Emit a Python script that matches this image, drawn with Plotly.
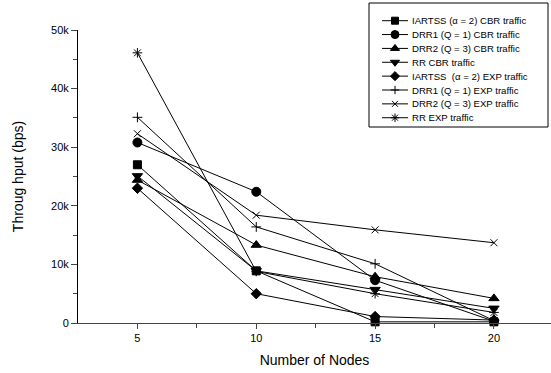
import plotly.graph_objects as go

nodes = [5, 10, 15, 20]

series_names = [
    "IARTSS (\u03b1 = 2) CBR traffic",
    "DRR1 (Q = 1) CBR traffic",
    "DRR2 (Q = 3) CBR traffic",
    "RR CBR traffic",
    "IARTSS  (\u03b1 = 2) EXP traffic",
    "DRR1 (Q = 1) EXP traffic",
    "DRR2 (Q = 3) EXP traffic",
    "RR EXP traffic",
]

iartss_cbr = [27000, 8900, 200, 200]
drr1_cbr = [30800, 22400, 7300, 300]
drr2_cbr = [24400, 13300, 7900, 4200]
rr_cbr = [25100, 8900, 5700, 2500]
iartss_exp = [23000, 5000, 1100, 500]
drr1_exp = [35100, 16400, 10100, 400]
drr2_exp = [32300, 18400, 15900, 13700]
rr_exp = [46100, 8800, 5000, 1800]

series_values = [iartss_cbr, drr1_cbr, drr2_cbr, rr_cbr,
                 iartss_exp, drr1_exp, drr2_exp, rr_exp]

y_tick_vals = [0, 10000, 20000, 30000, 40000, 50000]
y_tick_text = ["0", "10k", "20k", "30k", "40k", "50k"]
x_tick_vals = [5, 10, 15, 20]

symbols = ["square", "circle", "triangle-up", "triangle-down", "diamond",
           "cross-thin-open", "x-thin-open", "asterisk-open"]
sizes = [8, 9, 9, 9, 8, 7, 7, 8]
legend_sizes = [7, 8, 8, 8, 7, 6, 6, 7]

# page geometry (pixels)
W, H = 551, 373
L, R, T, B = 78, 0, 0, 50
plot_top_px = 30
plot_h = H - T - B  # 323

fig = go.Figure()
for name, vals, sym, sz in zip(series_names, series_values, symbols, sizes):
    fig.add_trace(go.Scatter(
        x=nodes, y=vals, name=name, mode="lines+markers",
        line=dict(color="black", width=1),
        marker=dict(symbol=sym, size=sz, color="black",
                    line=dict(color="black", width=1)),
        showlegend=False, cliponaxis=False,
    ))

# custom legend drawn on a pixel-coordinate overlay axis
leg_left, leg_right, leg_top, leg_bottom = 369, 548, 3, 127
first_y, step = 20.7, 13.86
seg_x0, seg_x1, mark_x, text_x = 382, 408, 395, 410
for i, (name, sym, sz) in enumerate(zip(series_names, symbols, legend_sizes)):
    yy = first_y + i * step
    fig.add_trace(go.Scatter(
        x=[seg_x0, seg_x1], y=[yy, yy], mode="lines",
        line=dict(color="black", width=1), xaxis="x2", yaxis="y2",
        showlegend=False, hoverinfo="skip",
    ))
    fig.add_trace(go.Scatter(
        x=[mark_x], y=[yy], mode="markers", xaxis="x2", yaxis="y2",
        marker=dict(symbol=sym, size=sz, color="black",
                    line=dict(color="black", width=1)),
        showlegend=False, hoverinfo="skip",
    ))
    fig.add_annotation(
        x=text_x, y=yy, xref="x2", yref="y2", text=name, showarrow=False,
        xanchor="left", yanchor="middle", font=dict(size=9.6),
    )
fig.add_shape(type="rect", xref="x2", yref="y2", x0=leg_left, x1=leg_right,
              y0=leg_top, y1=leg_bottom, line=dict(color="black", width=1),
              fillcolor="rgba(0,0,0,0)", layer="below")

fig.update_layout(
    width=W, height=H,
    margin=dict(l=L, r=R, t=T, b=B, autoexpand=False),
    paper_bgcolor="white", plot_bgcolor="rgba(0,0,0,0)",
    font=dict(family="Liberation Sans, Arial, sans-serif", color="black", size=11),
    showlegend=False,
    xaxis=dict(
        range=[2.5, 22.4], tickvals=x_tick_vals, ticks="outside", ticklen=5,
        showline=True, linecolor="#444", linewidth=1, showgrid=False,
        zeroline=False, tickfont=dict(size=11), tickcolor="#444",
        automargin=False,
        minor=dict(tickvals=[7.5, 12.5, 17.5], ticks="outside", ticklen=4,
                   tickcolor="#444"),
        title=dict(text="Number of Nodes", font=dict(size=14), standoff=11),
    ),
    yaxis=dict(
        domain=[0, (plot_h - plot_top_px) / plot_h],
        range=[0, 50000], tickvals=y_tick_vals, ticktext=y_tick_text,
        ticks="outside", ticklen=6, showline=True, linecolor="black",
        linewidth=1, showgrid=False, zeroline=False, tickfont=dict(size=11),
        automargin=False,
        minor=dict(tickvals=[5000, 15000, 25000, 35000, 45000],
                   ticks="outside", ticklen=4),
        title=dict(text="Throug hput (bps)", font=dict(size=14), standoff=24),
    ),
    xaxis2=dict(range=[L, W - R], overlaying="x", anchor="y2", visible=False,
                fixedrange=True, automargin=False),
    yaxis2=dict(range=[T + plot_h, T], domain=[0, 1], anchor="x2",
                visible=False, fixedrange=True, automargin=False),
)

fig.write_html("out.html")
